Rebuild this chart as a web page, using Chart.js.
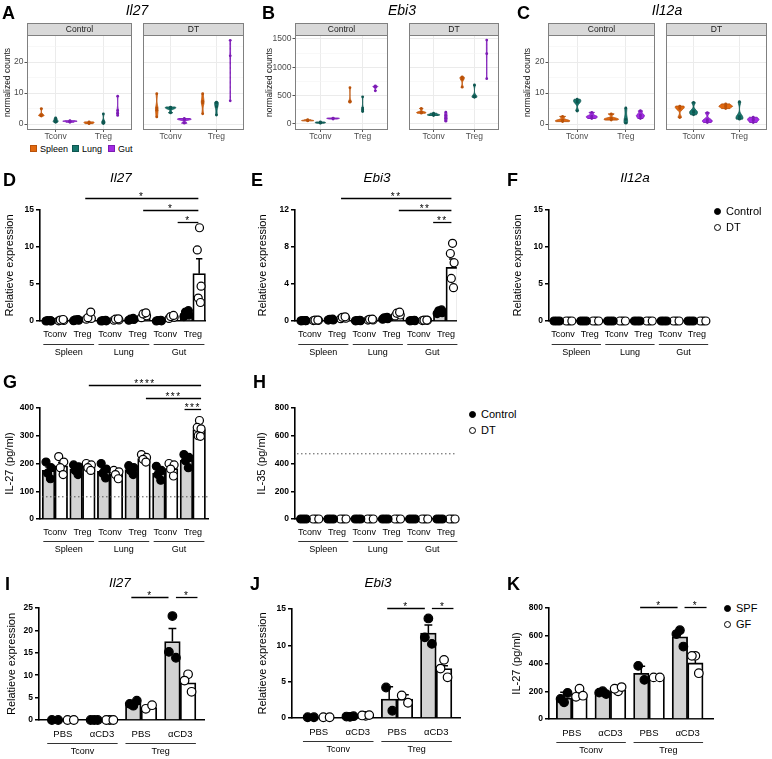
<!DOCTYPE html>
<html>
<head>
<meta charset="utf-8">
<title>IL-27 / EBI3 expression</title>
<script src="https://cdn.jsdelivr.net/npm/chart.js@4.4.1/dist/chart.umd.min.js"></script>
<style>
  html, body { margin: 0; padding: 0; background: #fff; }
  #fig { position: relative; width: 772px; height: 759px; overflow: hidden; font-family: "Liberation Sans", Arial, sans-serif; color: #000; }
  #fig canvas { position: absolute; }
  .letter { position: absolute; font-size: 18px; font-weight: bold; line-height: 18px; z-index: 2; }
  .title { position: absolute; font-size: 13.5px; font-style: italic; line-height: 16px; transform: translateX(-50%); white-space: nowrap; z-index: 2; }
  .legend { position: absolute; font-size: 11px; line-height: 16px; white-space: nowrap; z-index: 2; }
  .dot { display: inline-block; width: 7px; height: 7px; border-radius: 50%; box-sizing: border-box; margin-right: 5px; vertical-align: middle; position: relative; top: -1px; border: 1.3px solid #000; }
  .dot.full { background: #000; }
  .key { position: absolute; font-size: 9px; line-height: 12px; white-space: nowrap; z-index: 2; }
  .sq { display: inline-block; width: 7px; height: 7px; margin-right: 3px; vertical-align: middle; position: relative; top: -1px; box-sizing: border-box; }
</style>
</head>
<body>
<div id="fig">
  <div class="letter" style="left:2px;top:4px">A</div>
  <div class="letter" style="left:262px;top:4px">B</div>
  <div class="letter" style="left:517px;top:4px">C</div>
  <div class="letter" style="left:3px;top:171px">D</div>
  <div class="letter" style="left:251px;top:171px">E</div>
  <div class="letter" style="left:507px;top:171px">F</div>
  <div class="letter" style="left:3px;top:373px">G</div>
  <div class="letter" style="left:253px;top:373px">H</div>
  <div class="letter" style="left:5px;top:575px">I</div>
  <div class="letter" style="left:250px;top:575px">J</div>
  <div class="letter" style="left:507px;top:575px">K</div>

  <div class="title" style="left:137px;top:2px;font-size:14px">Il27</div>
  <div class="title" style="left:402px;top:2px;font-size:14px">Ebi3</div>
  <div class="title" style="left:667px;top:2px;font-size:14px">Il12a</div>
  <div class="title" style="left:121px;top:170px">Il27</div>
  <div class="title" style="left:377px;top:170px">Ebi3</div>
  <div class="title" style="left:635px;top:170px">Il12a</div>
  <div class="title" style="left:120px;top:575px">Il27</div>
  <div class="title" style="left:378px;top:575px">Ebi3</div>

  <div class="key" style="left:30px;top:143px"><span class="sq" style="background:#E2690F;border:1px solid #B9520A"></span>Spleen</div>
  <div class="key" style="left:72px;top:143px"><span class="sq" style="background:#17776D;border:1px solid #0E5650"></span>Lung</div>
  <div class="key" style="left:108px;top:143px"><span class="sq" style="background:#A22BE3;border:1px solid #7C1CB4"></span>Gut</div>

  <div class="legend" style="left:714px;top:203px"><span class="dot full"></span>Control</div>
  <div class="legend" style="left:714px;top:219px"><span class="dot"></span>DT</div>
  <div class="legend" style="left:469px;top:406px"><span class="dot full"></span>Control</div>
  <div class="legend" style="left:469px;top:422px"><span class="dot"></span>DT</div>
  <div class="legend" style="left:724px;top:600px"><span class="dot full"></span>SPF</div>
  <div class="legend" style="left:724px;top:616px"><span class="dot"></span>GF</div>
</div>

<script>
// ---------- categories ----------
const CELLS = ['Tconv', 'Treg'];
const ORGANS = ['Spleen', 'Lung', 'Gut'];
const ORGAN_FILL = ['#E2690F', '#17776D', '#A22BE3'];
const ORGAN_LINE = ['#B9520A', '#0E5650', '#7C1CB4'];
const ORGAN_TICKS = ['Tconv', 'Treg', 'Tconv', 'Treg', 'Tconv', 'Treg'];
const ORGAN_SPANS = [['Spleen', 0, 1], ['Lung', 2, 3], ['Gut', 4, 5]];
const TREAT_TICKS = ['PBS', 'αCD3', 'PBS', 'αCD3'];
const CELL_SPANS = [['Tconv', 0, 1], ['Treg', 2, 3]];

// ---------- A-C: normalized counts, [cell][organ] -> replicates ----------
const il27Control = [
  [[2.6, 2.8, 3.0, 5.0], [0.6, 0.9, 1.3, 2.0], [0.6, 0.85, 0.95, 1.1]],
  [[0.15, 0.35, 0.55, 0.7], [0.2, 0.4, 0.9, 3.3], [2.8, 3.5, 4.4, 9.0]],
];
const il27DT = [
  [[2.3, 4.5, 5.2, 9.8], [3.6, 5.0, 5.3, 5.5], [0.3, 1.4, 1.6, 1.8]],
  [[3.3, 6.8, 7.4, 9.8], [2.9, 5.6, 6.8, 7.1], [7.5, 22.0, 27.0]],
];
const ebi3Control = [
  [[55, 60, 65, 75], [15, 22, 28, 35], [88, 95, 100, 105]],
  [[385, 395, 400, 640], [220, 250, 280, 480], [585, 650, 660, 670]],
];
const ebi3DT = [
  [[190, 200, 210, 275], [150, 160, 170, 190], [50, 100, 150, 210]],
  [[650, 790, 815, 830], [470, 480, 490, 690], [800, 1240, 1480]],
];
const il12aControl = [
  [[0.8, 1.0, 1.3, 2.5], [4.2, 7.0, 7.5, 8.0], [1.8, 2.3, 2.6, 3.8]],
  [[1.3, 1.6, 1.8, 3.3], [0.3, 1.5, 5.2], [1.8, 2.6, 3.0, 4.3]],
];
const il12aDT = [
  [[2.1, 5.0, 5.5, 5.8], [3.0, 3.8, 4.2, 7.0], [0.5, 1.0, 1.4, 3.7]],
  [[5.0, 5.6, 5.9, 6.5], [1.6, 2.0, 2.5, 7.2], [0.5, 1.2, 1.6, 2.2]],
];
const smallTicks = [0, 5, 10, 15, 20, 25];
const smallMajor = [0, 10, 20];
const ebi3Ticks = [0, 250, 500, 750, 1000, 1250, 1500];
const ebi3Major = [0, 500, 1000, 1500];

// ---------- D: Il27 relative expression ----------
const dCtrlMean = [0.03, 0.12, 0.04, 0.22, 0.05, 1.0];
const dCtrlSem = [0.01, 0.03, 0.01, 0.06, 0.02, 0.2];
const dCtrlPts = [[0, 0, 0.05, 0.05], [0.05, 0.1, 0.15, 0.2], [0, 0.03, 0.05, 0.08], [0.1, 0.2, 0.25, 0.35], [0, 0.03, 0.07, 0.1], [0.6, 0.8, 1.2, 1.4]];
const dDtMean = [0.1, 0.55, 0.2, 0.8, 0.55, 6.4];
const dDtSem = [0.04, 0.25, 0.06, 0.15, 0.1, 2.0];
const dDtPts = [[0.02, 0.08, 0.12, 0.2], [0.25, 0.35, 0.45, 1.2], [0.1, 0.15, 0.25, 0.3], [0.45, 0.7, 0.95, 1.1], [0.35, 0.5, 0.6, 0.75], [12.6, 9.6, 4.7, 3.1, 2.5]];
const dSig = [[1.1, 5.2, 16.6, '*'], [3.2, 5.2, 15.0, '*'], [4.45, 5.2, 13.4, '*']];

// ---------- E: Ebi3 relative expression ----------
const eCtrlMean = [0.03, 0.15, 0.04, 0.3, 0.04, 1.0];
const eCtrlSem = [0.01, 0.03, 0.01, 0.05, 0.01, 0.1];
const eCtrlPts = [[0.02, 0.03, 0.04, 0.05], [0.1, 0.12, 0.18, 0.2], [0.02, 0.04, 0.05, 0.06], [0.2, 0.25, 0.35, 0.4], [0.02, 0.03, 0.05, 0.06], [0.8, 0.9, 1.1, 1.2]];
const eDtMean = [0.08, 0.35, 0.15, 0.75, 0.08, 5.8];
const eDtSem = [0.02, 0.05, 0.03, 0.1, 0.02, 0.9];
const eDtPts = [[0.05, 0.07, 0.09, 0.1], [0.25, 0.3, 0.4, 0.45], [0.1, 0.12, 0.18, 0.2], [0.55, 0.65, 0.85, 0.95], [0.05, 0.07, 0.09, 0.1], [8.4, 7.3, 6.3, 4.6, 3.6]];
const eSig = [[1.15, 5.2, 13.3, '**'], [3.27, 5.2, 12.0, '**'], [4.53, 5.2, 10.7, '**']];

// ---------- F: Il12a relative expression ----------
const fCtrlMean = [0, 0, 0, 0, 0, 0];
const fCtrlPts = [[0, 0, 0], [0, 0, 0], [0, 0, 0], [0, 0, 0], [0, 0, 0], [0, 0, 0]];
const fDtMean = [0, 0, 0, 0, 0, 0];
const fDtPts = [[0, 0, 0], [0, 0, 0], [0, 0, 0], [0, 0, 0], [0, 0, 0], [0, 0, 0]];

// ---------- G: IL-27 protein ----------
const gCtrlMean = [175, 180, 172, 178, 165, 212];
const gCtrlSem = [12, 8, 10, 8, 10, 10];
const gCtrlPts = [[205, 185, 165, 145], [195, 188, 175, 160], [200, 180, 165, 148], [192, 185, 175, 160], [190, 175, 160, 140], [232, 222, 210, 185]];
const gDtMean = [192, 188, 162, 218, 182, 322];
const gDtSem = [12, 5, 6, 6, 8, 12];
const gDtPts = [[225, 205, 185, 160], [200, 195, 185, 175], [175, 170, 160, 145], [232, 222, 215, 205], [200, 195, 180, 155], [355, 330, 325, 300, 298]];
const gLimit = 80;
const gSig = [[1.23, 5.3, 483, '****'], [3.3, 5.3, 436, '***'], [4.7, 5.3, 396, '***']];

// ---------- H: IL-35 protein ----------
const hCtrlMean = [0, 0, 0, 0, 0, 0];
const hCtrlPts = [[0, 0, 0], [0, 0, 0], [0, 0, 0], [0, 0, 0], [0, 0, 0], [0, 0, 0]];
const hDtMean = [0, 0, 0, 0, 0, 0];
const hDtPts = [[0, 0, 0], [0, 0, 0], [0, 0, 0], [0, 0, 0], [0, 0, 0], [0, 0, 0]];
const hLimit = 470;

// ---------- I: Il27, SPF vs GF ----------
const iSpfMean = [0, 0, 3.7, 17.5];
const iSpfSem = [0, 0, 0.3, 2.9];
const iSpfPts = [[0, 0], [0, 0, 0], [3.2, 3.6, 4.3], [23.2, 15.2, 13.9]];
const iGfMean = [0, 0, 2.8, 8.3];
const iGfSem = [0, 0, 0.4, 1.4];
const iGfPts = [[0, 0], [0, 0, 0], [2.5, 3.3], [10.2, 8.8, 6.3]];
const iSig = [[1.75, 2.7, 27.5, '*'], [2.89, 3.44, 27.5, '*']];

// ---------- J: Ebi3, SPF vs GF ----------
const jSpfMean = [0.1, 0.2, 2.6, 11.7];
const jSpfSem = [0, 0, 1.7, 1.1];
const jSpfPts = [[0.1, 0.1], [0.15, 0.2, 0.25], [4.2, 1.0], [13.7, 11.1, 10.2]];
const jGfMean = [0.1, 0.35, 2.6, 6.8];
const jGfSem = [0, 0, 0.6, 0.4];
const jGfPts = [[0.1, 0.1], [0.3, 0.35, 0.4], [3.1, 2.1], [8.0, 6.8, 5.6]];
const jSig = [[1.75, 2.71, 15.1, '*'], [2.89, 3.44, 15.1, '*']];

// ---------- K: IL-27 protein, SPF vs GF ----------
const kSpfMean = [152, 190, 330, 592];
const kSpfSem = [40, 8, 50, 40];
const kSpfPts = [[120, 145, 188], [200, 190, 180], [383, 282], [640, 612, 522]];
const kGfMean = [180, 210, 300, 404];
const kGfSem = [20, 10, 5, 70];
const kGfPts = [[218, 160, 168], [200, 218, 230], [300, 300], [455, 455, 330]];
const kSig = [[1.77, 2.74, 809, '*'], [2.92, 3.49, 809, '*']];

// ---------- helpers ----------
const FONT = '"Liberation Sans", Arial, Helvetica, sans-serif';
const DODGE = 0.3;
// horizontal scatter of replicate dots, as a fraction of half a bar
const SPREAD = { 1: [0], 2: [-0.4, 0.4], 3: [0, -0.45, 0.45], 4: [-0.4, 0.4, -0.15, 0.3], 5: [0.05, -0.3, 0.3, -0.15, 0.2] };

function placeCanvas(area, m) {
  const cv = document.createElement('canvas');
  const left = area[0] - m.y;
  const top = area[1] - m.t;
  cv.width = area[2] + m.r - left;
  cv.height = area[3] + m.x + m.b - top;
  cv.style.left = left + 'px';
  cv.style.top = top + 'px';
  document.getElementById('fig').appendChild(cv);
  return cv;
}

function pointData(pts, shift, half) {
  const out = [];
  pts.forEach((vals, i) => {
    const off = SPREAD[vals.length];
    vals.forEach((v, j) => out.push({ x: i + shift + off[j] * half, y: v }));
  });
  return out;
}

function bandwidth(vals) {
  const n = vals.length;
  const mean = vals.reduce((s, v) => s + v, 0) / n;
  const sd = Math.sqrt(vals.reduce((s, v) => s + (v - mean) ** 2, 0) / (n - 1));
  const s = [...vals].sort((a, b) => a - b);
  const q = (p) => {
    const h = (n - 1) * p;
    const lo = Math.floor(h);
    return s[lo] + (h - lo) * ((s[lo + 1] ?? s[lo]) - s[lo]);
  };
  let lo = Math.min(sd, (q(0.75) - q(0.25)) / 1.34);
  if (!(lo > 0)) lo = sd || Math.abs(s[0]) || 1;
  return 0.9 * lo * Math.pow(n, -0.2);
}

function density(vals, bw, t) {
  const sum = vals.reduce((acc, v) => acc + Math.exp(-0.5 * ((t - v) / bw) ** 2), 0);
  return sum / (vals.length * bw * Math.sqrt(2 * Math.PI));
}

// violins drawn from the replicate values, scaled by area within the facet
function violinPlugin(values) {
  return {
    id: 'violins',
    beforeDatasetsDraw(chart) {
      const { ctx, scales: { x, y } } = chart;
      const shapes = [];
      values.forEach((cellVals, ci) => cellVals.forEach((vals, oi) => {
        const bw = bandwidth(vals);
        const lo = Math.min(...vals);
        const hi = Math.max(...vals);
        const prof = [];
        for (let k = 0; k <= 48; k++) {
          const t = lo + (hi - lo) * k / 48;
          prof.push([t, density(vals, bw, t)]);
        }
        shapes.push({ cx: ci + 1 + (oi - 1) * DODGE, oi, prof });
      }));
      const maxD = Math.max(...shapes.flatMap((s) => s.prof.map((p) => p[1])));
      ctx.save();
      shapes.forEach(({ cx, oi, prof }) => {
        const px = x.getPixelForValue(cx);
        const half = x.getPixelForValue(cx + DODGE / 2) - px;
        ctx.beginPath();
        prof.forEach(([t, d], k) => {
          const X = px + (d / maxD) * half;
          const Y = y.getPixelForValue(t);
          if (k) ctx.lineTo(X, Y); else ctx.moveTo(X, Y);
        });
        for (let k = prof.length - 1; k >= 0; k--) {
          ctx.lineTo(px - (prof[k][1] / maxD) * half, y.getPixelForValue(prof[k][0]));
        }
        ctx.closePath();
        ctx.fillStyle = ORGAN_FILL[oi];
        ctx.fill();
        ctx.strokeStyle = ORGAN_LINE[oi];
        ctx.lineWidth = 0.9;
        ctx.stroke();
      });
      ctx.restore();
    },
  };
}

function facetFrame(label) {
  return {
    id: 'facetFrame',
    afterDraw(chart) {
      const { ctx, chartArea: a } = chart;
      const w = a.right - a.left;
      ctx.save();
      ctx.fillStyle = '#D9D9D9';
      ctx.fillRect(a.left, a.top - 12, w, 12);
      ctx.strokeStyle = '#808080';
      ctx.lineWidth = 1;
      ctx.strokeRect(a.left + 0.5, a.top - 11.5, w - 1, 12);
      ctx.strokeRect(a.left + 0.5, a.top + 0.5, w - 1, a.bottom - a.top - 1);
      ctx.fillStyle = '#1A1A1A';
      ctx.font = `8.5px ${FONT}`;
      ctx.textAlign = 'center';
      ctx.textBaseline = 'middle';
      ctx.fillText(label, a.left + w / 2, a.top - 5.5);
      ctx.restore();
    },
  };
}

function facetChart(area, m, cfg) {
  const cv = placeCanvas(area, m);
  const isMajor = (c) => c.tick && cfg.major.includes(c.tick.value);
  const datasets = ORGANS.map((organ, oi) => ({
    label: organ,
    data: cfg.values.flatMap((cellVals, ci) => cellVals[oi].map((v) => ({ x: ci + 1 + (oi - 1) * DODGE, y: v }))),
    backgroundColor: ORGAN_LINE[oi],
    borderColor: ORGAN_LINE[oi],
    borderWidth: 0,
    pointRadius: 1.4,
    clip: false,
  }));
  new Chart(cv, {
    type: 'scatter',
    data: { datasets },
    options: {
      responsive: false,
      animation: false,
      events: [],
      layout: { padding: { left: 0, top: m.t, right: m.r, bottom: m.b } },
      plugins: { legend: { display: false }, tooltip: { enabled: false } },
      scales: {
        x: {
          type: 'linear', min: 0.4, max: 2.6, offset: false,
          afterBuildTicks: (s) => { s.ticks = CELLS.map((_, i) => ({ value: i + 1 })); },
          afterFit: (s) => { s.height = m.x; },
          border: { display: false },
          grid: { color: '#EBEBEB', tickColor: '#555', tickLength: 2 },
          ticks: { callback: (v, i) => CELLS[i], autoSkip: false, maxRotation: 0, padding: 0, color: '#4D4D4D', font: { family: FONT, size: 8.5, lineHeight: 1 } },
        },
        y: {
          min: cfg.yMin, max: cfg.yMax,
          afterBuildTicks: (s) => { s.ticks = cfg.ticks.map((v) => ({ value: v })); },
          afterFit: (s) => { s.width = m.y; },
          border: { display: false },
          grid: {
            color: (c) => (isMajor(c) ? '#EBEBEB' : '#F4F4F4'),
            lineWidth: (c) => (isMajor(c) ? 1 : 0.6),
            tickColor: (c) => (isMajor(c) ? '#555' : 'rgba(0,0,0,0)'),
            drawTicks: cfg.showY, tickLength: 2.5,
          },
          ticks: { display: cfg.showY, callback: (v) => (cfg.major.includes(v) ? v : ''), padding: 1, color: '#4D4D4D', font: { family: FONT, size: 8.5 } },
          title: { display: cfg.showY, text: 'normalized counts', padding: 0, color: '#1A1A1A', font: { family: FONT, size: 8.5 } },
        },
      },
    },
    plugins: [violinPlugin(cfg.values), facetFrame(cfg.strip)],
  });
}

const errorBars = {
  id: 'errorBars',
  afterDatasetDraw(chart, args) {
    const ds = chart.data.datasets[args.index];
    if (!ds.errors) return;
    const { ctx } = chart;
    const y = chart.scales.y;
    ctx.save();
    ctx.strokeStyle = '#000';
    ctx.lineWidth = 1.5;
    args.meta.data.forEach((bar, i) => {
      const err = ds.errors[i];
      if (!err) return;
      const base = y.getPixelForValue(ds.data[i].y);
      const top = y.getPixelForValue(ds.data[i].y + err);
      const cap = bar.width * 0.25;
      ctx.beginPath();
      ctx.moveTo(bar.x, base);
      ctx.lineTo(bar.x, top);
      ctx.moveTo(bar.x - cap, top);
      ctx.lineTo(bar.x + cap, top);
      ctx.stroke();
    });
    ctx.restore();
  },
};

function annotations(p) {
  return {
    id: 'annotations',
    afterDatasetsDraw(chart) {
      const { ctx, chartArea: a, scales: { x, y } } = chart;
      ctx.save();
      if (p.limit != null) {
        const ly = y.getPixelForValue(p.limit);
        ctx.setLineDash([1.5, 2.5]);
        ctx.strokeStyle = '#555';
        ctx.lineWidth = 1;
        ctx.beginPath();
        ctx.moveTo(a.left + 2, ly);
        ctx.lineTo(a.right, ly);
        ctx.stroke();
        ctx.setLineDash([]);
      }
      ctx.strokeStyle = '#000';
      ctx.fillStyle = '#000';
      ctx.textAlign = 'center';
      ctx.lineWidth = 1.3;
      (p.sig || []).forEach(([x1, x2, v, label]) => {
        const py = Math.round(y.getPixelForValue(v)) + 0.5;
        const px1 = x.getPixelForValue(x1);
        const px2 = x.getPixelForValue(x2);
        ctx.beginPath();
        ctx.moveTo(px1, py);
        ctx.lineTo(px2, py);
        ctx.stroke();
        ctx.font = `10px ${FONT}`;
        ctx.letterSpacing = '1.5px';
        ctx.textBaseline = 'alphabetic';
        ctx.fillText(label, (px1 + px2) / 2, py + 1.5);
        ctx.letterSpacing = '0px';
      });
      ctx.font = `9px ${FONT}`;
      ctx.textBaseline = 'middle';
      ctx.strokeStyle = '#333';
      ctx.lineWidth = 1.2;
      p.spans.forEach(([label, i0, i1]) => {
        const sx1 = x.getPixelForValue(i0 - p.spanPad);
        const sx2 = x.getPixelForValue(i1 + p.spanPad);
        const ly = Math.round(a.bottom + p.spanDy) + 0.5;
        ctx.beginPath();
        ctx.moveTo(sx1, ly);
        ctx.lineTo(sx2, ly);
        ctx.stroke();
        ctx.fillText(label, (sx1 + sx2) / 2, ly + 8.5);
      });
      ctx.restore();
    },
  };
}

function barChart(area, m, p) {
  const cv = placeCanvas(area, m);
  const bars = (means, sign, fill, errors) => ({
    type: 'bar',
    data: means.map((v, i) => ({ x: i + sign * p.off, y: v })),
    errors,
    backgroundColor: fill,
    borderColor: '#000',
    borderWidth: 1.8,
    borderSkipped: 'bottom',
    grouped: false,
    barPercentage: 1,
    categoryPercentage: 1,
    order: 2,
  });
  const dots = (pts, sign, fill) => ({
    type: 'scatter',
    data: pointData(pts, sign * p.off, p.off),
    backgroundColor: fill,
    borderColor: '#000',
    borderWidth: 1.2,
    pointRadius: p.r,
    clip: false,
    order: 1,
  });
  new Chart(cv, {
    type: 'bar',
    data: {
      datasets: [
        dots(p.ctrlPts, -1, '#000'),
        dots(p.dtPts, 1, '#fff'),
        bars(p.ctrlMean, -1, '#D3D3D3', p.ctrlSem),
        bars(p.dtMean, 1, '#fff', p.dtSem),
      ],
    },
    options: {
      responsive: false,
      animation: false,
      events: [],
      layout: { padding: { left: 0, top: m.t, right: m.r, bottom: m.b } },
      plugins: { legend: { display: false }, tooltip: { enabled: false } },
      scales: {
        x: {
          type: 'linear', min: p.xMin, max: p.xMax, offset: false,
          afterBuildTicks: (s) => { s.ticks = p.groups.map((_, i) => ({ value: i })); },
          afterFit: (s) => { s.height = m.x; },
          grid: { display: false, drawTicks: false, offset: false },
          border: { display: true, color: '#000', width: 1.6 },
          ticks: { callback: (v, i) => p.groups[i], autoSkip: false, maxRotation: 0, padding: 8.6, color: '#000', font: { family: FONT, size: p.tickSize } },
        },
        y: {
          min: 0, max: p.yMax,
          afterFit: (s) => { s.width = m.y; },
          grid: { drawOnChartArea: false, color: '#000', tickColor: '#000', tickLength: 4, lineWidth: 1.5, tickWidth: 1.5 },
          border: { color: '#000', width: 1.6 },
          ticks: { stepSize: p.yStep, color: '#000', padding: 2, font: { family: FONT, size: 8.5, weight: 'bold' } },
          title: { display: true, text: p.yTitle, color: '#000', padding: 0, font: { family: FONT, size: 11 } },
        },
      },
    },
    plugins: [errorBars, annotations(p)],
  });
}

// ---------- A-C ----------
const facetMargin = (y) => ({ y, x: 12, t: 13, r: 0, b: 0 });
facetChart([27, 35, 136, 130], facetMargin(24), { values: il27Control, strip: 'Control', showY: true, yMin: -1.9, yMax: 28.7, ticks: smallTicks, major: smallMajor });
facetChart([139, 35, 248, 130], facetMargin(0), { values: il27DT, strip: 'DT', showY: false, yMin: -1.9, yMax: 28.7, ticks: smallTicks, major: smallMajor });
facetChart([295, 35, 392, 130], facetMargin(30), { values: ebi3Control, strip: 'Control', showY: true, yMin: -106, yMax: 1570, ticks: ebi3Ticks, major: ebi3Major });
facetChart([405, 35, 503, 130], facetMargin(0), { values: ebi3DT, strip: 'DT', showY: false, yMin: -106, yMax: 1570, ticks: ebi3Ticks, major: ebi3Major });
facetChart([548, 35, 659, 130], facetMargin(25), { values: il12aControl, strip: 'Control', showY: true, yMin: -1.9, yMax: 28.7, ticks: smallTicks, major: smallMajor });
facetChart([662, 35, 771, 130], facetMargin(0), { values: il12aDT, strip: 'DT', showY: false, yMin: -1.9, yMax: 28.7, ticks: smallTicks, major: smallMajor });

// ---------- D-H ----------
const organBase = { groups: ORGAN_TICKS, spans: ORGAN_SPANS, spanPad: 0.42, spanDy: 23, off: 0.23, r: 4, tickSize: 9 };
barChart([40, 210, 207, 321], { y: 37, x: 20, t: 30, r: 4, b: 20 }, {
  ...organBase, xMin: -0.54, xMax: 5.47, yMax: 15, yStep: 5, yTitle: 'Relatieve expression',
  ctrlMean: dCtrlMean, ctrlSem: dCtrlSem, ctrlPts: dCtrlPts, dtMean: dDtMean, dtSem: dDtSem, dtPts: dDtPts, sig: dSig,
});
barChart([295, 210, 460, 321], { y: 39, x: 20, t: 30, r: 4, b: 20 }, {
  ...organBase, xMin: -0.54, xMax: 5.4, yMax: 12, yStep: 4, yTitle: 'Relatieve expression',
  ctrlMean: eCtrlMean, ctrlSem: eCtrlSem, ctrlPts: eCtrlPts, dtMean: eDtMean, dtSem: eDtSem, dtPts: eDtPts, sig: eSig,
});
barChart([549, 210, 713, 321], { y: 38, x: 20, t: 30, r: 2, b: 20 }, {
  ...organBase, xMin: -0.52, xMax: 5.45, yMax: 15, yStep: 5, yTitle: 'Relatieve expression',
  ctrlMean: fCtrlMean, ctrlSem: null, ctrlPts: fCtrlPts, dtMean: fDtMean, dtSem: null, dtPts: fDtPts,
});
barChart([40, 408, 210, 519], { y: 37, x: 19, t: 35, r: 4, b: 21 }, {
  ...organBase, spanDy: 22, xMin: -0.54, xMax: 5.58, yMax: 400, yStep: 100, yTitle: 'IL-27 (pg/ml)',
  ctrlMean: gCtrlMean, ctrlSem: gCtrlSem, ctrlPts: gCtrlPts, dtMean: gDtMean, dtSem: gDtSem, dtPts: gDtPts, sig: gSig, limit: gLimit,
});
barChart([295, 408, 460, 519], { y: 40, x: 19, t: 35, r: 4, b: 21 }, {
  ...organBase, spanDy: 22, xMin: -0.54, xMax: 5.4, yMax: 800, yStep: 200, yTitle: 'IL-35 (pg/ml)',
  ctrlMean: hCtrlMean, ctrlSem: null, ctrlPts: hCtrlPts, dtMean: hDtMean, dtSem: null, dtPts: hDtPts, limit: hLimit,
});

// ---------- I-K ----------
const treatBase = { groups: TREAT_TICKS, spans: CELL_SPANS, spanPad: 0.4, spanDy: 23, off: 0.2, r: 4.3, tickSize: 9.5 };
barChart([39, 608, 206, 720], { y: 34, x: 20, t: 22, r: 4, b: 19 }, {
  ...treatBase, xMin: -0.61, xMax: 3.62, yMax: 25, yStep: 5, yTitle: 'Relatieve expression',
  ctrlMean: iSpfMean, ctrlSem: iSpfSem, ctrlPts: iSpfPts, dtMean: iGfMean, dtSem: iGfSem, dtPts: iGfPts, sig: iSig,
});
barChart([292, 609, 462, 718], { y: 36, x: 20, t: 22, r: 4, b: 20 }, {
  ...treatBase, xMin: -0.68, xMax: 3.62, yMax: 15, yStep: 5, yTitle: 'Relatieve expression',
  ctrlMean: jSpfMean, ctrlSem: jSpfSem, ctrlPts: jSpfPts, dtMean: jGfMean, dtSem: jGfSem, dtPts: jGfPts, sig: jSig,
});
barChart([549, 608, 715, 719], { y: 39, x: 20, t: 22, r: 4, b: 20 }, {
  ...treatBase, xMin: -0.59, xMax: 3.67, yMax: 800, yStep: 200, yTitle: 'IL-27 (pg/ml)',
  ctrlMean: kSpfMean, ctrlSem: kSpfSem, ctrlPts: kSpfPts, dtMean: kGfMean, dtSem: kGfSem, dtPts: kGfPts, sig: kSig,
});
</script>
</body>
</html>
